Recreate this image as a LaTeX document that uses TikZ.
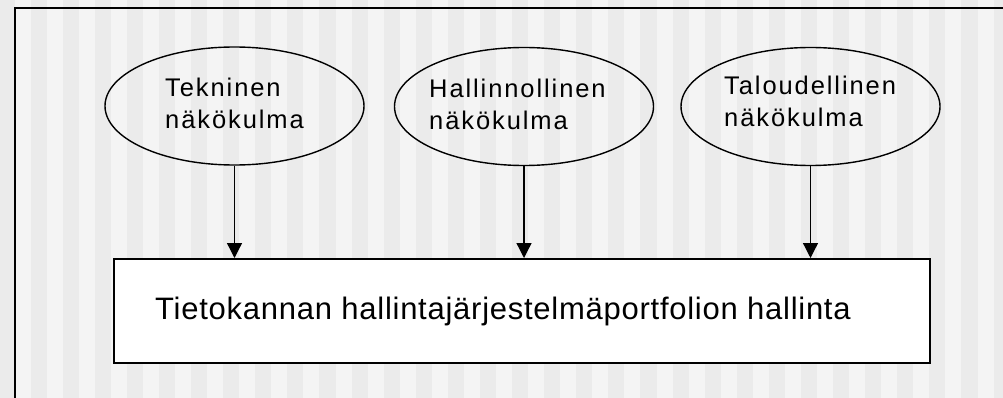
\documentclass[tikz,border=0pt]{standalone}
\usepackage{fontspec}
\setmainfont{Liberation Sans}
\newfontfamily\viewfont[LetterSpace=7.5]{Liberation Sans}
\newfontfamily\mainfont[LetterSpace=2.4]{Liberation Sans}
\usetikzlibrary{shapes.geometric,arrows.meta}
\definecolor{stripeA}{HTML}{EBEBEB}
\definecolor{stripeB}{HTML}{F4F4F4}
\tikzset{
  view/.style={ellipse, draw, line width=1.4pt, minimum width=259pt, minimum height=118pt, inner sep=0pt},
  viewtext/.style={anchor=base west, align=left, inner sep=0pt,
    font=\viewfont\fontsize{25.5}{32.3}\selectfont},
  target/.style={draw, fill=white, line width=2pt, anchor=north west,
    minimum width=816pt, minimum height=104pt, inner sep=0pt},
  targettext/.style={anchor=base west, inner sep=0pt,
    font=\mainfont\fontsize{31}{37}\selectfont},
  feed/.style={line width=1.3pt, -{Triangle[length=15pt,width=15pt]}}
}
\begin{document}
\begin{tikzpicture}[x=1pt,y=1pt]
  \useasboundingbox (0,0) rectangle (1003,-398);
  \clip (0,0) rectangle (1003,-398);
  % striped backdrop
  \fill[stripeA] (0,0) rectangle (1003,-398);
  \foreach \k in {0,...,31}
    \fill[stripeB] ({14.5+32.1*\k},0) rectangle ({30.5+32.1*\k},-398);
  % outer frame running off the page
  \draw[line width=2pt] (15,-430) -- (15,-8.5) -- (1030,-8.5);

  % the three viewpoints
  \node[view] (tek) at (234.5,-106) {};
  \node[view] (hal) at (524,-106.5) {};
  \node[view] (tal) at (810.5,-106.5) {};
  % text anchored on the baseline of its second line
  \node[viewtext] (tekT) at (165,-129) {Tekninen\\näkökulma};
  \node[viewtext] (halT) at (429,-130) {Hallinnollinen\\näkökulma};
  \node[viewtext] (talT) at (724,-127) {Taloudellinen\\näkökulma};

  % managed portfolio
  \node[target] (box) at (113,-258) {};
  \node[targettext] (boxT) at (155,-319) {Tietokannan hallintajärjestelmäportfolion hallinta};

  % influence arrows
  \draw[feed] (tek.south) -- (tek.south |- box.north);
  \draw[feed] (hal.south) -- (hal.south |- box.north);
  \draw[feed] (tal.south) -- (tal.south |- box.north);
\end{tikzpicture}
\end{document}
